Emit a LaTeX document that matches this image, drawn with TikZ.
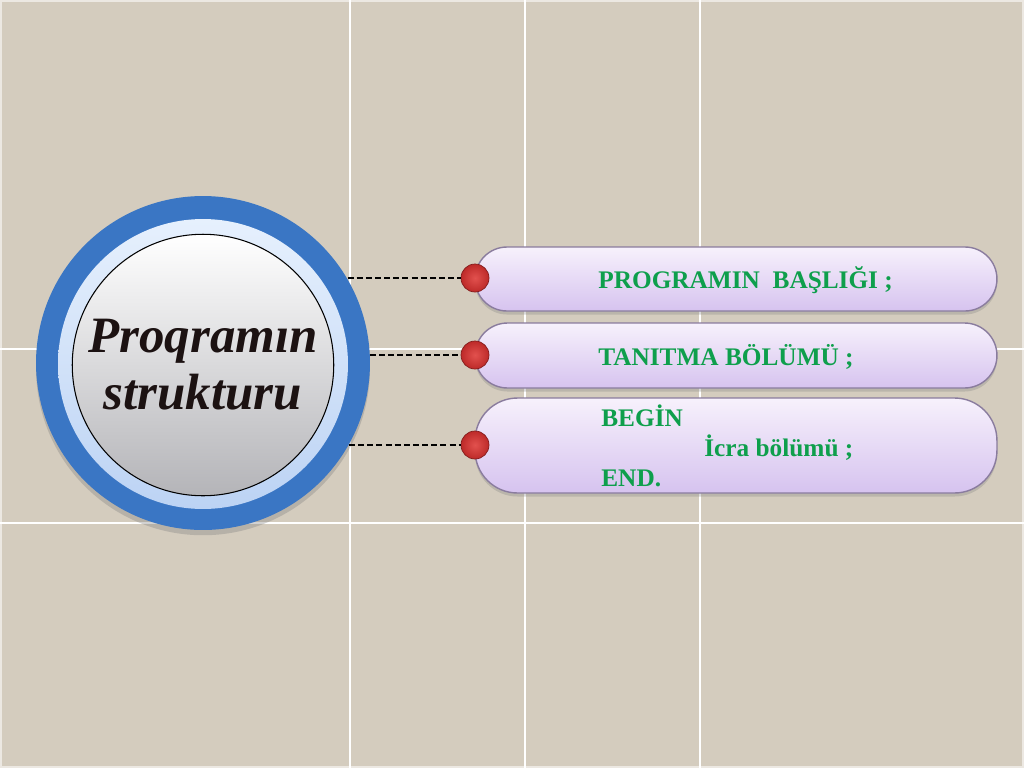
\documentclass[tikz,border=0pt]{standalone}
\usepackage{fontspec}
\setmainfont{Liberation Serif}
\usetikzlibrary{positioning,shadows,calc}
\definecolor{BgBeige}{HTML}{D4CCBE}
\definecolor{RingBlue}{HTML}{3A76C4}
\definecolor{RingTop}{HTML}{E6F0FD}
\definecolor{RingBottom}{HTML}{BCD3F4}
\definecolor{CoreBottom}{HTML}{B4B4B8}
\definecolor{BoxTop}{HTML}{F7F1FC}
\definecolor{BoxBottom}{HTML}{D6C3EF}
\definecolor{BoxLine}{HTML}{8A7C9E}
\definecolor{TextGreen}{HTML}{0E9F4C}
\definecolor{DotLight}{HTML}{E2514E}
\definecolor{DotRed}{HTML}{BD2A29}
\definecolor{TitleDark}{HTML}{1C1212}

\begin{document}
\begin{tikzpicture}[x=0.02cm,y=-0.02cm,
    grid/.style={white,line width=0.8pt},
    partbox/.style={draw=BoxLine, line width=0.8pt, top color=BoxTop,
                    bottom color=BoxBottom, minimum width=10.44cm,
                    drop shadow={opacity=0.3,shadow xshift=0pt,shadow yshift=-2pt}},
    parttext/.style={anchor=west, text=TextGreen, inner sep=0pt,
                     font=\fontsize{14.4}{17}\selectfont\bfseries},
    dot/.style={circle, minimum size=0.56cm, inner sep=0pt, draw=DotRed!70!black,
                line width=0.4pt, inner color=DotLight, outer color=DotRed},
    link/.style={black, line width=1.1pt, dash pattern=on 3.4pt off 1.8pt}]
  \useasboundingbox (0,0) rectangle (1024,768);
  % background and grid
  \fill[BgBeige] (0,0) rectangle (1024,768);
  \draw[white!55!BgBeige, line width=1pt] (1,1) rectangle (1023,767);
  \draw[grid] (350,0) -- (350,768);
  \draw[grid] (525,0) -- (525,768);
  \draw[grid] (700,0) -- (700,768);
  \draw[grid] (0,349) -- (1024,349);
  \draw[grid] (0,523) -- (1024,523);

  % central circle
  \node[circle, fill=RingBlue, minimum size=6.68cm, outer sep=0pt,
        drop shadow={opacity=0.35,shadow xshift=0pt,shadow yshift=-3pt}]
    (outer) at (203,363) {};
  \node[circle, top color=RingTop, bottom color=RingBottom, minimum size=5.8cm]
    (ring) at (203,364) {};
  \node[circle, draw=black, line width=0.6pt, top color=white,
        bottom color=CoreBottom, minimum size=5.2cm, align=center,
        text=TitleDark, font=\fontsize{29}{32.5}\selectfont\bfseries\itshape]
    (core) at (203,365) {Proqramın\\ strukturu};

  % parts
  \node[partbox, minimum height=1.28cm, rounded corners=0.64cm] (box1) at (736,279) {};
  \node[partbox, minimum height=1.3cm, rounded corners=0.65cm] (box2) at (736,355.5) {};
  \node[partbox, minimum height=1.9cm, rounded corners=0.85cm] (box3) at (736,445.5) {};

  \node[parttext] (head) at (598,280) {PROGRAMIN\ \ BAŞLIĞI ;};
  \node[parttext] (decl) at (598,357) {TANITMA BÖLÜMÜ ;};
  \node[parttext] (beg) at (601,416) {BEGİN};
  \node[parttext] (exec) at (704,448) {İcra bölümü ;};
  \node[parttext] (fin) at (601,478) {END.};

  \node[dot] (dot1) at (475,278) {};
  \node[dot] (dot2) at (475,355) {};
  \node[dot] (dot3) at (475,445) {};

  \draw[link] (outer.30.6 |- dot1) -- (dot1);
  \draw[link] (outer.2.7 |- dot2) -- (dot2);
  \draw[link] (outer.-29 |- dot3) -- (dot3);
\end{tikzpicture}
\end{document}
